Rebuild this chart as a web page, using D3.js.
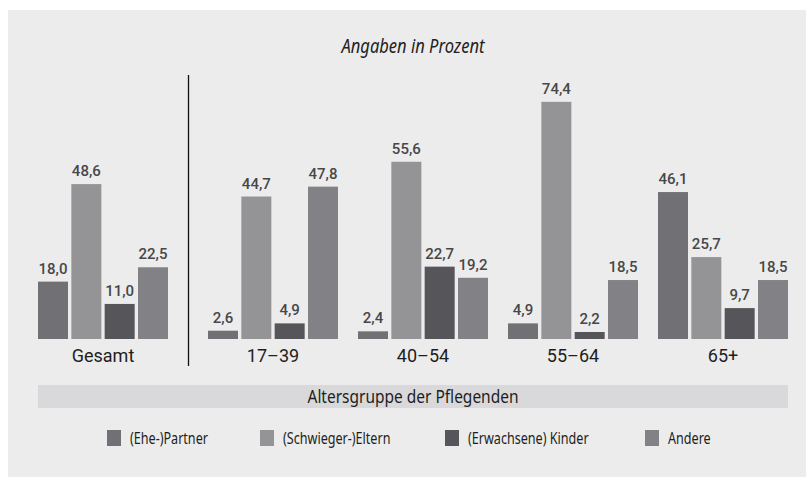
<!DOCTYPE html>
<html>
<head>
<meta charset="utf-8">
<script src="https://cdn.jsdelivr.net/npm/d3@7"></script>
<style>
  html, body { margin: 0; padding: 0; background: #ffffff; }
  svg { display: block; }
  .cond { font-family: 'Noto Sans', 'Open Sans', sans-serif; }
</style>
</head>
<body>
<svg id="chart" width="806" height="477"></svg>
<script>
// ---- data ----
const groups = ["Gesamt", "17–39", "40–54", "55–64", "65+"];
const seriesNames = ["(Ehe-)Partner", "(Schwieger-)Eltern", "(Erwachsene) Kinder", "Andere"];
const partner   = [18.0, 2.6, 2.4, 4.9, 46.1];
const eltern    = [48.6, 44.7, 55.6, 74.4, 25.7];
const kinder    = [11.0, 4.9, 22.7, 2.2, 9.7];
const andere    = [22.5, 47.8, 19.2, 18.5, 18.5];
const seriesValues = [partner, eltern, kinder, andere];
const title = "Angaben in Prozent";
const axisTitle = "Altersgruppe der Pflegenden";

// ---- styles ----
const colors = ["#717175", "#949497", "#56565a", "#828286"];

const svg = d3.select("#chart");
const W = 806, H = 477;

// condense helper (no condensed font installed): squeeze glyphs horizontally
function condense(sel, factor) {
  sel.each(function () {
    const w = this.getComputedTextLength();
    d3.select(this).attr("textLength", w * factor).attr("lengthAdjust", "spacingAndGlyphs");
  });
}

// panel background
svg.append("rect").attr("x", 8).attr("y", 10).attr("width", W - 8).attr("height", H - 10)
  .attr("fill", "#ececec");

// scales
const ageGroups = groups.slice(1);
const x0 = d3.scaleBand().domain(ageGroups).range([198, 798])
  .paddingInner(20 / 150).paddingOuter(10 / 150);
const xG = d3.scaleBand().domain([groups[0]]).range([28, 178])
  .paddingInner(20 / 150).paddingOuter(10 / 150);
const groupX = g => g === groups[0] ? xG(g) : x0(g);
const bw = x0.bandwidth();
const x1 = d3.scaleBand().domain(seriesNames).range([0, bw]).paddingInner(0.1).paddingOuter(0);
const y = d3.scaleLinear().domain([0, 80]).range([339, 84]);

const fmt = d3.formatLocale({decimal: ",", thousands: ".", grouping: [3], currency: ["", "€"]}).format(".1f");

// title
svg.append("text").attr("class", "cond").attr("x", 413).attr("y", 53).attr("text-anchor", "middle")
  .attr("font-style", "italic").attr("font-size", 19)
  .attr("fill", "#222").text(title).call(condense, 0.87);

// divider
svg.append("line").attr("x1", 188.5).attr("x2", 188.5).attr("y1", 75).attr("y2", 366)
  .attr("stroke", "#111").attr("stroke-width", 1.3);

// bars
const data = [];
groups.forEach((g, gi) => seriesNames.forEach((s, si) => data.push({g, s, si, v: seriesValues[si][gi]})));

const gBars = svg.append("g");
gBars.selectAll("rect").data(data).join("rect")
  .attr("x", d => groupX(d.g) + x1(d.s))
  .attr("y", d => y(d.v))
  .attr("width", x1.bandwidth())
  .attr("height", d => y(0) - y(d.v))
  .attr("fill", d => colors[d.si]);

gBars.selectAll("text").data(data).join("text")
  .attr("x", d => groupX(d.g) + x1(d.s) + x1.bandwidth() / 2)
  .attr("y", d => y(d.v) - 8)
  .attr("text-anchor", "middle")
  .attr("font-family", "Roboto, 'Liberation Sans', sans-serif")
  .attr("font-weight", 500)
  .attr("font-size", 15)
  .attr("fill", "#47474a")
  .text(d => fmt(d.v));

// category labels
svg.append("g").selectAll("text").data(groups).join("text")
  .attr("x", g => groupX(g) + bw / 2)
  .attr("y", 362)
  .attr("text-anchor", "middle")
  .attr("font-family", "Roboto, 'Liberation Sans', sans-serif")
  .attr("font-size", 18)
  .attr("fill", "#1e1e1e")
  .text(g => g);

// axis title strip
svg.append("rect").attr("x", 38).attr("y", 385).attr("width", 750).attr("height", 23)
  .attr("fill", "#d9d9db");
svg.append("text").attr("class", "cond").attr("x", 413).attr("y", 402.5).attr("text-anchor", "middle")
  .attr("font-size", 18).attr("fill", "#1e1e1e")
  .text(axisTitle).call(condense, 0.86);

// legend
const legendX = [107, 260, 445, 645];
const lg = svg.append("g").selectAll("g").data(seriesNames).join("g")
  .attr("transform", (d, i) => `translate(${legendX[i]},430)`);
lg.append("rect").attr("width", 14).attr("height", 16).attr("fill", (d, i) => colors[i]);
lg.append("text").attr("class", "cond").attr("x", 23).attr("y", 14)
  .attr("font-size", 17).attr("fill", "#1e1e1e")
  .text(d => d).call(condense, 0.74);
</script>
</body>
</html>
